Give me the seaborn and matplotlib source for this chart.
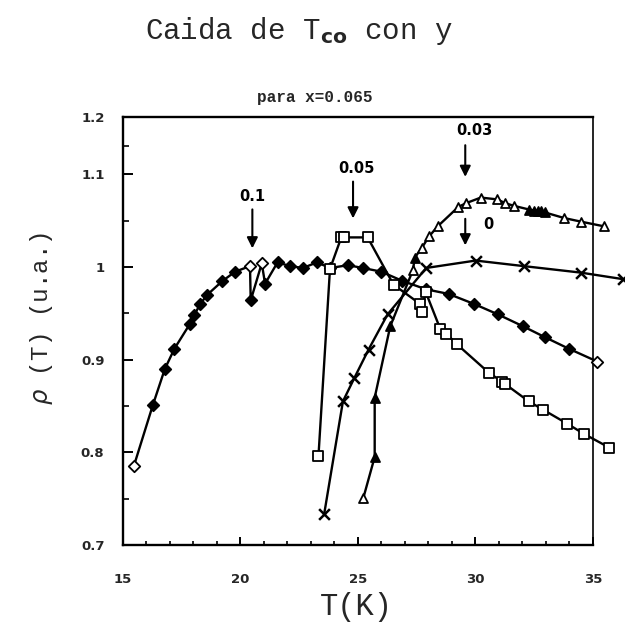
import numpy as np
import pandas as pd
import matplotlib
matplotlib.use("Agg")
import matplotlib.pyplot as plt
from matplotlib.ticker import FixedLocator, FixedFormatter
import seaborn as sns

# ---- data: normalised resistivity vs temperature, one series per y ----
# y = 0.1 (diamonds)
t_y010 = [15.48, 16.29, 16.80, 17.21, 17.85, 18.05, 18.30, 18.60, 19.25, 19.79,
          20.42, 20.45, 20.92, 21.06, 21.59, 22.13, 22.67, 23.26, 23.83, 24.58,
          25.22, 26.00, 26.90, 27.90, 28.86, 29.96, 30.95, 32.03, 32.98, 33.96, 35.18]
r_y010 = [0.785, 0.851, 0.890, 0.912, 0.938, 0.948, 0.960, 0.970, 0.985, 0.995,
          1.001, 0.964, 1.004, 0.982, 1.005, 1.001, 0.999, 1.005, 0.999, 1.002,
          0.999, 0.995, 0.985, 0.976, 0.971, 0.960, 0.949, 0.936, 0.924, 0.912, 0.898]
open_y010 = [0, 10, 12, 30]

# y = 0.05 (squares)
t_y005 = [23.33, 23.82, 24.30, 24.43, 25.42, 26.52, 27.66, 27.72, 27.89, 28.51,
          28.77, 29.20, 30.57, 31.15, 31.25, 32.27, 32.88, 33.90, 34.61, 35.70]
r_y005 = [0.796, 0.998, 1.032, 1.032, 1.032, 0.981, 0.960, 0.952, 0.973, 0.933,
          0.928, 0.917, 0.886, 0.876, 0.874, 0.855, 0.846, 0.831, 0.820, 0.805]

# y = 0.03 (triangles)
t_y003 = [25.24, 25.72, 25.72, 26.38, 27.35, 27.42, 27.73, 28.03, 28.40, 29.28,
          29.61, 30.23, 30.94, 31.26, 31.65, 32.30, 32.50, 32.65, 32.80, 32.95,
          33.76, 34.49, 35.46]
r_y003 = [0.751, 0.795, 0.859, 0.936, 0.997, 1.010, 1.021, 1.033, 1.044, 1.065,
          1.069, 1.075, 1.073, 1.069, 1.066, 1.062, 1.061, 1.061, 1.060, 1.059,
          1.053, 1.049, 1.044]
filled_y003 = [1, 2, 3, 5, 15, 16, 17, 18, 19]

# y = 0 (crosses)
t_y000 = [23.57, 24.37, 24.85, 25.46, 26.27, 27.91, 30.01, 32.06, 34.48, 36.26]
r_y000 = [0.733, 0.855, 0.880, 0.911, 0.949, 0.999, 1.007, 1.001, 0.994, 0.987]

# arrow labels: text, temperature, label height / arrow tail / arrow tip (axes fraction)
arrow_text = ["0.1", "0.05", "0.03", "0"]
arrow_t = [20.52, 24.80, 29.57, 29.57]
arrow_label_t = [20.52, 24.95, 29.95, 30.57]
arrow_label_h = [0.814, 0.880, 0.969, 0.748]
arrow_tail = [0.784, 0.849, 0.934, 0.762]
arrow_tip = [0.693, 0.763, 0.860, 0.700]

x_ticks = [15, 20, 25, 30, 35]
y_ticks = [0.7, 0.8, 0.9, 1.0, 1.1, 1.2]
y_tick_labels = ["0.7", "0.8", "0.9", "1", "1.1", "1.2"]

# ---- figure ----
sns.set_style("ticks")
plt.rcParams["font.family"] = ["DejaVu Sans"]
mono = "Liberation Mono"

fig = plt.figure(figsize=(6.25, 6.36), dpi=100)
ax = fig.add_axes([0.196, 0.1431, 0.7528, 0.6730])

# upper band of the axis (above 1.1) is drawn compressed
K = 0.62


def fwd(y):
    y = np.asarray(y, dtype=float)
    return np.where(y <= 1.1, y, 1.1 + (y - 1.1) * K)


def inv(y):
    y = np.asarray(y, dtype=float)
    return np.where(y <= 1.1, y, 1.1 + (y - 1.1) / K)


ax.set_yscale("function", functions=(fwd, inv))

lw = 1.7
ms = 45


def draw_series(t, r, marker, filled_idx, size=ms, mlw=1.3):
    df = pd.DataFrame({"T": t, "rho": r, "i": range(len(t))})
    sns.lineplot(data=df, x="T", y="rho", sort=False, estimator=None,
                 color="black", lw=lw, ax=ax, clip_on=False, zorder=3)
    filled = df[df["i"].isin(filled_idx)]
    hollow = df[~df["i"].isin(filled_idx)]
    if marker == "x":
        sns.scatterplot(data=df, x="T", y="rho", marker="x", s=size * 1.2,
                        color="black", linewidth=1.8, ax=ax, clip_on=False, zorder=4)
        return
    if len(hollow):
        sns.scatterplot(data=hollow, x="T", y="rho", marker=marker, s=size,
                        facecolor="white", edgecolor="black", linewidth=mlw,
                        ax=ax, clip_on=False, zorder=4)
    if len(filled):
        sns.scatterplot(data=filled, x="T", y="rho", marker=marker, s=size,
                        facecolor="black", edgecolor="black", linewidth=mlw,
                        ax=ax, clip_on=False, zorder=4)


filled_y010 = [i for i in range(len(t_y010)) if i not in open_y010]
draw_series(t_y010, r_y010, "D", filled_y010, size=34)
draw_series(t_y005, r_y005, "s", [], size=44)
draw_series(t_y003, r_y003, "^", filled_y003, size=42)
draw_series(t_y000, r_y000, "x", [], size=50)

# arrows marking each transition
xtr = ax.get_xaxis_transform()
for txt, tx, lt, lh, tail, tip in zip(arrow_text, arrow_t, arrow_label_t,
                                      arrow_label_h, arrow_tail, arrow_tip):
    ax.annotate("", xy=(tx, tip), xytext=(tx, tail), xycoords=xtr, textcoords=xtr,
                arrowprops=dict(arrowstyle="-|>", color="black", lw=1.5,
                                mutation_scale=16, shrinkA=0, shrinkB=0))
    ax.text(lt, lh, txt, transform=xtr, ha="center", va="center",
            fontsize=10.5, fontweight="semibold", color="black")

# axes
ax.set_xlim(15, 35)
ax.set_ylim(0.7, 1.2)
ax.xaxis.set_major_locator(FixedLocator(x_ticks))
ax.xaxis.set_minor_locator(FixedLocator(np.arange(15, 36, 1)))
ax.yaxis.set_major_locator(FixedLocator(y_ticks))
ax.yaxis.set_major_formatter(FixedFormatter(y_tick_labels))
ax.yaxis.set_minor_locator(FixedLocator([0.75, 0.85, 0.95, 1.05, 1.15]))
ax.tick_params(axis="both", which="both", direction="in", color="black",
               top=False, right=False)
ax.tick_params(axis="x", which="major", length=6, width=1.4, pad=20)
ax.tick_params(axis="x", which="minor", length=3, width=1.2)
ax.tick_params(axis="y", which="major", length=7, width=1.4, pad=13)
ax.tick_params(axis="y", which="minor", length=4, width=1.2)
for lab in ax.get_xticklabels() + ax.get_yticklabels():
    lab.set_fontweight("bold")
    lab.set_fontsize(9.5)
for side in ["left", "bottom", "top", "right"]:
    ax.spines[side].set_visible(True)
    ax.spines[side].set_color("black")
    ax.spines[side].set_linewidth(1.7)
ax.spines["right"].set_linewidth(1.2)

ax.set_xlabel("")
ax.set_ylabel("")
fig.text(0.571, 0.046, "T(K)", ha="center", va="center", fontsize=22,
         family=mono)
fig.text(0.066, 0.500, r"$\rho$ (T) (u.a.)", ha="center", va="center",
         rotation=90, fontsize=17.5, family=mono)
fig.text(0.479, 0.952, r"Caida de T$_{\mathbf{co}}$ con y", ha="center",
         va="center", fontsize=21, family=mono)
fig.text(0.504, 0.846, "para x=0.065", ha="center", va="center",
         fontsize=11.5, fontweight="bold", family=mono)

fig.savefig("out.png", dpi=100)
